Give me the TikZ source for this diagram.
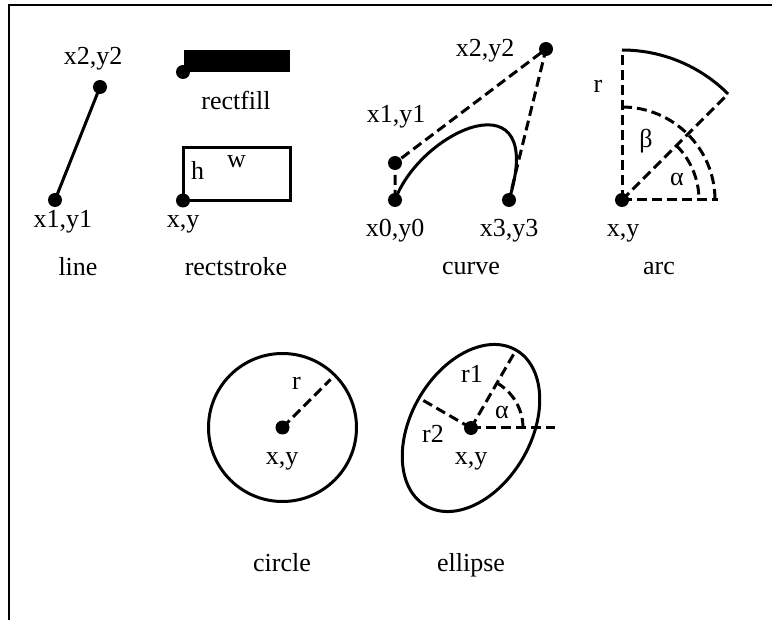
\documentclass[tikz,border=0pt]{standalone}
\usepackage{fontspec}
\setmainfont{Liberation Serif}
\begin{document}
\begin{tikzpicture}[x=1pt,y=-1pt,line width=3pt,
  dot/.style={circle,fill,inner sep=0pt,minimum size=14pt},
  lbl/.style={anchor=base,inner sep=0pt,font=\fontsize{26}{30}\selectfont},
  dsh/.style={dash pattern=on 10pt off 5pt},
  frameline/.style={line width=2pt}]
\useasboundingbox (0,0) rectangle (772,620);
\draw[frameline] (8.5,620) -- (8.5,5.5) -- (772,5.5);

% line
\node[dot] (la) at (55,200) {};
\node[dot] (lb) at (100,87) {};
\draw (la.center) -- (lb.center);
\node[lbl] (tlb) at (93,65) {x2,y2};
\node[lbl] (tla) at (63,228) {x1,y1};
\node[lbl] (tline) at (78,276) {line};

% rectfill
\node[fill,inner sep=0pt,outer sep=0pt,minimum width=106pt,minimum height=22pt,anchor=south west] (rfbox) at (184,72) {};
\node[dot] (rf) at (183,72) {};
\node[lbl] (trf) at (236,110) {rectfill};

% rectstroke
\node[draw,inner sep=0pt,outer sep=0pt,minimum width=107pt,minimum height=53pt,anchor=south west] (rsbox) at (183.5,200.5) {};
\node[dot] (rs) at (183,200.5) {};
\node[lbl] (th) at (197.5,180) {h};
\node[lbl] (tw) at (236.5,168) {w};
\node[lbl] (trs) at (183,228) {x,y};
\node[lbl] (trsn) at (236,276) {rectstroke};

% curve
\node[dot] (c0) at (395,200) {};
\node[dot] (c1) at (395,163) {};
\node[dot] (c2) at (546,49) {};
\node[dot] (c3) at (509,200) {};
\coordinate (k1) at (422,128);
\coordinate (k2) at (548,75);
\draw[dsh] (c0.center) -- (c1.center) -- (c2.center) -- (c3.center);
\draw (c0.center) .. controls (k1) and (k2) .. (c3.center);
\node[lbl] (tc2) at (485,57) {x2,y2};
\node[lbl] (tc1) at (396,123) {x1,y1};
\node[lbl] (tc0) at (395,237) {x0,y0};
\node[lbl] (tc3) at (509,237) {x3,y3};
\node[lbl] (tcn) at (471,275) {curve};

% arc
\node[dot] (ac) at (622,200) {};
\coordinate (atop) at ([shift={(-90:150)}]ac.center);
\coordinate (aend) at ([shift={(-45:150)}]ac.center);
\coordinate (aright) at ([shift={(0:96)}]ac.center);
\draw[dsh] (ac.center) -- (atop);
\draw[dsh] (ac.center) -- (aend);
\draw[dsh] (ac.center) -- (aright);
\draw (atop) arc[start angle=-90,end angle=-45,radius=150];
\draw[dsh] ([shift={(-90:93)}]ac.center) arc[start angle=-90,end angle=0,radius=93];
\draw[dsh] ([shift={(-45:77)}]ac.center) arc[start angle=-45,end angle=0,radius=77];
\node[lbl] (tar) at (598,93) {r};
\node[lbl] (tab) at (646,148) {β};
\node[lbl] (taa) at (677,186) {α};
\node[lbl] (taxy) at (623,237) {x,y};
\node[lbl] (tan) at (659,275) {arc};

% circle
\node[draw,circle,inner sep=0pt,outer sep=0pt,minimum size=148pt] (circ) at (282.5,427.5) {};
\node[dot] (cc) at (282.5,427.5) {};
\coordinate (cr) at ([shift={(-45:68)}]cc.center);
\draw[dsh] (cc.center) -- (cr);
\node[lbl] (tcr) at (296.5,390) {r};
\node[lbl] (tcxy) at (282,465) {x,y};
\node[lbl] (tcn2) at (282,572) {circle};

% ellipse
\node[dot] (ec) at (471,428) {};
\draw[rotate around={60:(ec.center)}] (ec.center) ellipse [x radius=90, y radius=60];
\coordinate (er1) at ([shift={(-60:86)}]ec.center);
\coordinate (er2) at ([shift={(-150:61)}]ec.center);
\coordinate (eh) at ([shift={(0:84)}]ec.center);
\draw[dsh] (ec.center) -- (er1);
\draw[dsh] (ec.center) -- (er2);
\draw[dsh] (ec.center) -- (eh);
\draw[dsh] ([shift={(0:52)}]ec.center) arc[start angle=0,end angle=-60,radius=52];
\node[lbl] (ter1) at (472,383) {r1};
\node[lbl] (tea) at (502,419) {α};
\node[lbl] (ter2) at (433,443) {r2};
\node[lbl] (texy) at (471,465) {x,y};
\node[lbl] (ten) at (471,572) {ellipse};
\end{tikzpicture}
\end{document}
